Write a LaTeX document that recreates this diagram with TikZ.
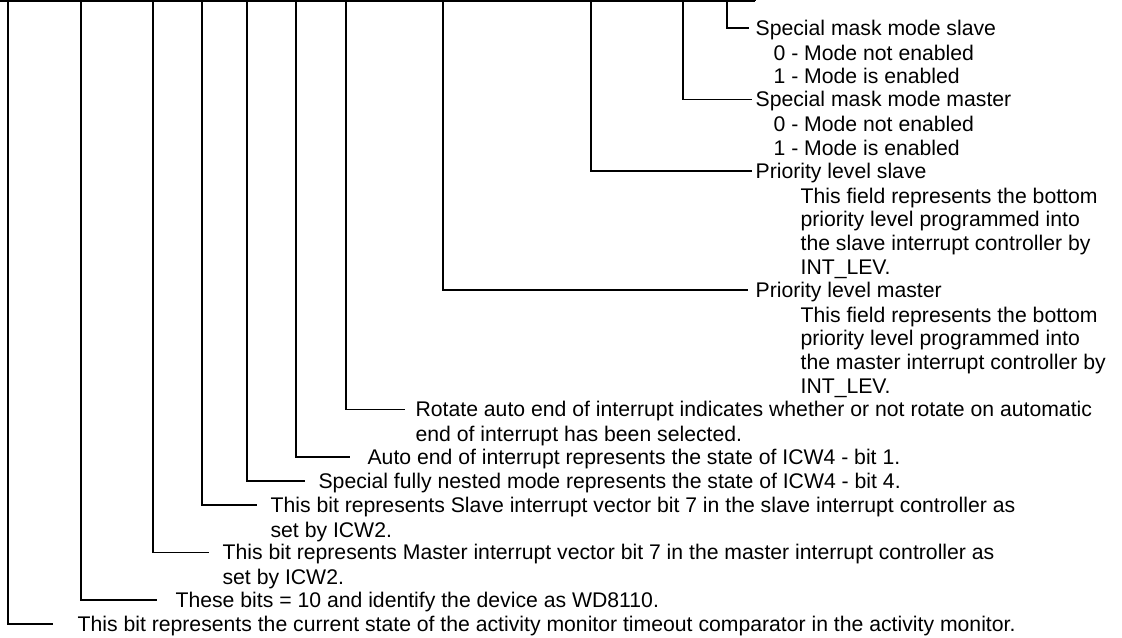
\documentclass[tikz,border=0pt]{standalone}
\usepackage{fontspec}
\setmainfont{Liberation Sans}
\usetikzlibrary{positioning}
% strut that fills one text line (9.46pt above, 2.46pt below the baseline)
\newcommand{\lnstrut}{\rule[-2.46pt]{0pt}{11.92pt}}

\begin{document}
\begin{tikzpicture}[x=0.5pt, y=-0.5pt, line width=0.6pt,
    every node/.style={font=\fontsize{10.6pt}{11.92pt}\selectfont},
    head/.style={anchor=west, inner ysep=0pt, inner xsep=#1,
                 text height=9.46pt, text depth=2.46pt},
    head/.default=3pt,
    body/.style={align=left, inner sep=0pt}]
    % Geometry in pixels of the scan (1px = 0.5pt, y grows downwards).
    % Text sits on a 23.84px grid: line k -> y = 28 + 23.84k
    %   k=0 -> 28     k=6  -> 171    k=18 -> 457    k=22 -> 552.5
    %   k=3 -> 99.5   k=11 -> 290    k=19 -> 481    k=24 -> 600
    %                 k=16 -> 409.5  k=20 -> 505    k=25 -> 624
    \useasboundingbox (0,0) rectangle (1122,637);

    % Bottom edge of the register table (cut off by the page top)
    \draw (0,1) -- (755,1);
    \draw (707,1) -- (707,-3);
    \draw (755,1) -- (755,-3);

    % Bit positions on the table edge
    \coordinate (actmontop) at (8,1);
    \coordinate (devidtop)  at (81,1);
    \coordinate (mvectop)   at (153,1);
    \coordinate (svectop)   at (202,1);
    \coordinate (sfnmtop)   at (247,1);
    \coordinate (aeoitop)   at (296,1);
    \coordinate (raeoitop)  at (346,1);
    \coordinate (plmtop)    at (443,1);
    \coordinate (plstop)    at (591,1);
    \coordinate (smmmtop)   at (683,1);
    \coordinate (smmstop)   at (727,1);

    % Field descriptions (head line carries the leader)
    \node[head=3pt]   (smms) at (749,28) {Special mask mode slave};
    \node[body, below right=0pt and 12pt of smms.south west] (smmsval)
        {\lnstrut 0 - Mode not enabled\\\lnstrut 1 - Mode is enabled};
    \node[head=1.5pt] (smmm) at (752,99.5) {Special mask mode master};
    \node[body, below right=0pt and 10.5pt of smmm.south west] (smmmval)
        {\lnstrut 0 - Mode not enabled\\\lnstrut 1 - Mode is enabled};
    \node[head=1.5pt] (pls) at (752,171) {Priority level slave};
    \node[body, below right=0pt and 24pt of pls.south west] (plsdesc)
        {\lnstrut This field represents the bottom\\\lnstrut priority level programmed into\\
         \lnstrut the slave interrupt controller by\\\lnstrut INT\_LEV.};
    \node[head=3.5pt] (plm) at (748,290) {Priority level master};
    \node[body, below right=0pt and 26pt of plm.south west] (plmdesc)
        {\lnstrut This field represents the bottom\\\lnstrut priority level programmed into\\
         \lnstrut the master interrupt controller by\\\lnstrut INT\_LEV.};
    \node[head=5pt]   (raeoi) at (405,409.5)
        {Rotate auto end of interrupt indicates whether or not rotate on automatic};
    \node[body, below right=0pt and 5pt of raeoi.south west] (raeoimore)
        {\lnstrut end of interrupt has been selected.};
    \node[head=8.5pt] (aeoi) at (350,457)
        {Auto end of interrupt represents the state of ICW4 - bit 1.};
    \node[head=6.5pt] (sfnm) at (305,481)
        {Special fully nested mode represents the state of ICW4 - bit 4.};
    \node[head=6.5pt] (svec) at (257,505)
        {This bit represents Slave interrupt vector bit 7 in the slave interrupt controller as};
    \node[body, below right=0pt and 6.5pt of svec.south west] (svecmore)
        {\lnstrut set by ICW2.};
    \node[head=6.5pt] (mvec) at (209,552.5)
        {This bit represents Master interrupt vector bit 7 in the master interrupt controller as};
    \node[body, below right=0pt and 6.5pt of mvec.south west] (mvecmore)
        {\lnstrut set by ICW2.};
    \node[head=9pt]   (devid) at (157,600)
        {These bits = 10 and identify the device as WD8110.};
    \node[head=12pt]  (actmon) at (53,624)
        {This bit represents the current state of the activity monitor timeout comparator in the activity monitor.};

    % Leaders from the bit positions down to the descriptions
    \draw (smmstop)  |- (smms.west);
    \draw (smmmtop)  |- (smmm.west);
    \draw (plstop)   |- (pls.west);
    \draw (plmtop)   |- (plm.west);
    \draw (raeoitop) |- (raeoi.west);
    \draw (aeoitop)  |- (aeoi.west);
    \draw (sfnmtop)  |- (sfnm.west);
    \draw (svectop)  |- (svec.west);
    \draw (mvectop)  |- (mvec.west);
    \draw (devidtop) |- (devid.west);
    \draw (actmontop) |- (actmon.west);
\end{tikzpicture}
\end{document}
